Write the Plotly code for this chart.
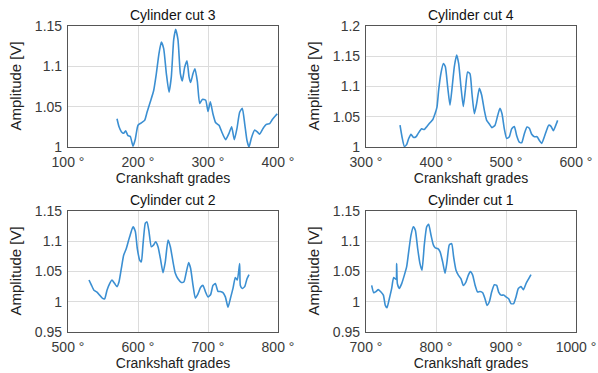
import plotly.graph_objects as go

# ---- data ----
cut3_x = [170, 172.9, 176.2, 179.5, 182.4, 185.7, 189, 192.9, 196.2, 200, 204.8, 209.5, 212.9, 217.6, 222.4,
          226.2, 230, 233.3, 236.7, 240.5, 244.3, 247.6, 251, 253.8, 257.1, 260.5, 263.3, 266.7, 270, 272.9,
          275.2, 278.6, 281.4, 284.8, 288.1, 291.9, 296.7, 300, 303.3, 307.1, 311, 315.7, 320.5, 325.2, 330,
          333.8, 337.6, 341.4, 345.2, 349, 352.4, 355.7, 358.6, 361.9, 366.7, 370, 373.8, 378.6, 383.3, 388.1,
          391.9, 396.7, 399]
cut3_y = [1.035, 1.025, 1.019, 1.017, 1.020, 1.014, 1.013, 1.001, 1.010, 1.027, 1.030, 1.033, 1.043, 1.056, 1.070,
          1.091, 1.116, 1.130, 1.122, 1.091, 1.068, 1.087, 1.133, 1.146, 1.133, 1.091, 1.082, 1.099, 1.107, 1.087,
          1.080, 1.091, 1.097, 1.081, 1.054, 1.059, 1.058, 1.044, 1.056, 1.041, 1.030, 1.027, 1.017, 1.009, 1.017,
          1.025, 1.009, 1.023, 1.043, 1.048, 1.029, 1.008, 1.000, 1.011, 1.021, 1.019, 1.016, 1.023, 1.028, 1.029,
          1.034, 1.039, 1.041]

cut4_x = [348.6, 351.4, 354.8, 358.1, 361, 364.3, 367.6, 371.4, 374.8, 379.5, 383.3, 387.1, 391.4, 395.2, 398.6,
          401.4, 403.8, 407.1, 410.5, 413.3, 416.7, 420, 422.9, 426.2, 429.5, 432.4, 435.7, 439, 441.9, 445.2,
          448.6, 451.4, 454.8, 458.1, 461.9, 465.2, 469, 472.4, 476.2, 480, 484.3, 488.1, 491.4, 494.3, 497.6,
          501, 504.8, 508.1, 511.9, 515.2, 519, 522.4, 526.2, 530, 533.3, 536.7, 540.5, 544.3, 547.6, 551,
          554.8, 558.1, 561, 564.3, 567.6, 570.5, 573.8]
cut4_y = [1.036, 1.017, 1.001, 1.004, 1.014, 1.021, 1.016, 1.017, 1.023, 1.030, 1.029, 1.034, 1.040, 1.045, 1.055,
          1.066, 1.094, 1.122, 1.138, 1.133, 1.099, 1.069, 1.097, 1.133, 1.152, 1.138, 1.099, 1.067, 1.094, 1.124,
          1.121, 1.088, 1.055, 1.072, 1.097, 1.086, 1.061, 1.044, 1.038, 1.032, 1.036, 1.052, 1.064, 1.055, 1.030,
          1.014, 1.017, 1.030, 1.034, 1.019, 1.008, 1.007, 1.022, 1.033, 1.031, 1.021, 1.017, 1.017, 1.011, 1.006,
          1.017, 1.028, 1.036, 1.034, 1.027, 1.034, 1.044]

cut2_x = [530, 533.3, 537.1, 541.4, 545.2, 549, 552.4, 555.7, 559.5, 562.9, 566.7, 570, 572.9, 576.2, 579.5,
          583.3, 586.7, 589.5, 592.9, 596.2, 599, 602.4, 604.8, 607.1, 610.5, 612.9, 615.7, 619, 622.4, 625.2,
          628.6, 631.9, 635.7, 639, 642.9, 646.2, 650, 653.3, 657.1, 661.9, 665.7, 669, 672.4, 675.2, 678.6,
          681.9, 685.7, 689.5, 692.9, 696.2, 700, 703.8, 707.1, 710.5, 714.3, 717.6, 721.4, 724.8, 728.6, 731.9,
          735.7, 739, 741.9, 745.2, 746.2, 749, 752.4, 755.7, 758.6]
cut2_y = [1.036, 1.028, 1.019, 1.016, 1.011, 1.006, 1.005, 1.019, 1.030, 1.036, 1.030, 1.025, 1.033, 1.055, 1.077,
          1.088, 1.102, 1.113, 1.124, 1.116, 1.088, 1.069, 1.066, 1.094, 1.130, 1.132, 1.116, 1.091, 1.094, 1.099,
          1.091, 1.072, 1.048, 1.066, 1.102, 1.091, 1.066, 1.047, 1.038, 1.032, 1.033, 1.049, 1.065, 1.055, 1.027,
          1.006, 1.013, 1.024, 1.027, 1.017, 1.008, 1.012, 1.027, 1.030, 1.017, 1.017, 1.015, 1.008, 0.991, 1.005,
          1.022, 1.040, 1.036, 1.063, 1.027, 1.022, 1.025, 1.038, 1.045]

cut1_x = [708.1, 711, 714.3, 717.6, 721.4, 724.8, 727.6, 730, 733.3, 736.7, 739.5, 742.9, 743.8, 744.8, 747.6,
          751, 754.8, 758.1, 761, 764.3, 767.6, 770.5, 773.8, 777.1, 780, 783.3, 786.7, 789.5, 792.9, 796.2,
          799, 802.4, 805.7, 809.5, 812.9, 815.7, 819, 822.4, 825.2, 828.6, 831.9, 835.7, 839, 842.9, 846.2,
          849, 852.4, 855.7, 859.5, 862.9, 866.7, 870, 872.9, 876.2, 879.5, 883.3, 886.7, 889.5, 892.9, 896.7,
          900, 903.8, 907.1, 910.9, 914.3, 917.6, 921.4, 924.8, 928.6, 931.9, 935.7]
cut1_y = [1.027, 1.015, 1.017, 1.020, 1.016, 1.011, 0.994, 0.990, 1.005, 1.022, 1.040, 1.037, 1.063, 1.030, 1.022,
          1.030, 1.044, 1.058, 1.083, 1.110, 1.124, 1.118, 1.088, 1.063, 1.052, 1.094, 1.124, 1.128, 1.110, 1.094,
          1.089, 1.088, 1.083, 1.066, 1.047, 1.066, 1.094, 1.096, 1.074, 1.052, 1.044, 1.038, 1.027, 1.033, 1.044,
          1.050, 1.044, 1.028, 1.016, 1.017, 1.015, 1.005, 0.994, 1.000, 1.016, 1.028, 1.027, 1.016, 1.011, 1.011,
          1.008, 1.005, 0.997, 0.997, 1.008, 1.022, 1.025, 1.020, 1.030, 1.037, 1.045]

titles = ["Cylinder cut 3", "Cylinder cut 4", "Cylinder cut 2", "Cylinder cut 1"]
x_ticks = [[100, 200, 300, 400], [300, 400, 500, 600], [500, 600, 700, 800], [700, 800, 900, 1000]]
y_ticks = [[1, 1.05, 1.1, 1.15], [1, 1.05, 1.1, 1.15, 1.2], [0.95, 1, 1.05, 1.1, 1.15], [0.95, 1, 1.05, 1.1, 1.15]]
y_ticktext = [["1", "1.05", "1.1", "1.15"], ["1", "1.05", "1.1", "1.15", "1.2"],
              ["0.95", "1", "1.05", "1.1", "1.15"], ["0.95", "1", "1.05", "1.1", "1.15"]]
series = [(cut3_x, cut3_y), (cut4_x, cut4_y), (cut2_x, cut2_y), (cut1_x, cut1_y)]

W, H = 598, 373
px_x = [(68, 278), (366, 576), (68, 278), (366, 576)]
px_y = [(26, 147), (26, 147), (211, 332), (211, 332)]

FONT = "Liberation Sans, Arial, sans-serif"
LINE = "#3b8fd2"

fig = go.Figure()
for i, (xs, ys) in enumerate(series):
    n = "" if i == 0 else str(i + 1)
    fig.add_trace(go.Scatter(x=xs, y=ys, mode="lines",
                             line=dict(color=LINE, width=1.6, shape="spline", smoothing=0.5),
                             xaxis="x" + n, yaxis="y" + n, showlegend=False))
    x0, x1 = px_x[i]
    y0, y1 = px_y[i]
    xa = dict(domain=[x0 / W, x1 / W], range=[x_ticks[i][0], x_ticks[i][-1]],
              tickvals=x_ticks[i], ticktext=[f"{v} °" for v in x_ticks[i]],
              showline=True, mirror=True, linecolor="#555", linewidth=1.2,
              showgrid=True, gridcolor="#dcdcdc", gridwidth=1, zeroline=False, automargin=False,
              ticks="", ticklabelstandoff=2, tickfont=dict(family=FONT, size=14, color="#3a3a3a"),
              title=dict(text="Crankshaft grades", font=dict(family=FONT, size=14, color="#222"), standoff=0),
              anchor="y" + n)
    ya = dict(domain=[1 - y1 / H, 1 - y0 / H], range=[y_ticks[i][0], y_ticks[i][-1]],
              tickvals=y_ticks[i], ticktext=y_ticktext[i],
              showline=True, mirror=True, linecolor="#555", linewidth=1.2,
              showgrid=True, gridcolor="#dcdcdc", gridwidth=1, zeroline=False, automargin=False,
              ticks="", ticklabelstandoff=2, tickfont=dict(family=FONT, size=14, color="#3a3a3a"),
              anchor="x" + n)
    fig.layout["xaxis" + n] = xa
    fig.layout["yaxis" + n] = ya
    fig.add_annotation(text=titles[i], xref="paper", yref="paper",
                       x=(x0 + x1) / 2 / W, y=1 - (y0 - 11) / H, showarrow=False,
                       xanchor="center", yanchor="middle",
                       font=dict(family=FONT, size=14, color="#111"))
    fig.add_annotation(text="Amplitude [V]", xref="paper", yref="paper",
                       x=(x0 - 53) / W, y=1 - (y0 + y1) / 2 / H, showarrow=False,
                       textangle=-90, xanchor="center", yanchor="middle",
                       font=dict(family=FONT, size=15, color="#222"))

fig.update_layout(width=W, height=H, margin=dict(l=0, r=0, t=0, b=0, autoexpand=False),
                  paper_bgcolor="white", plot_bgcolor="white")
fig.write_html("out.html")
